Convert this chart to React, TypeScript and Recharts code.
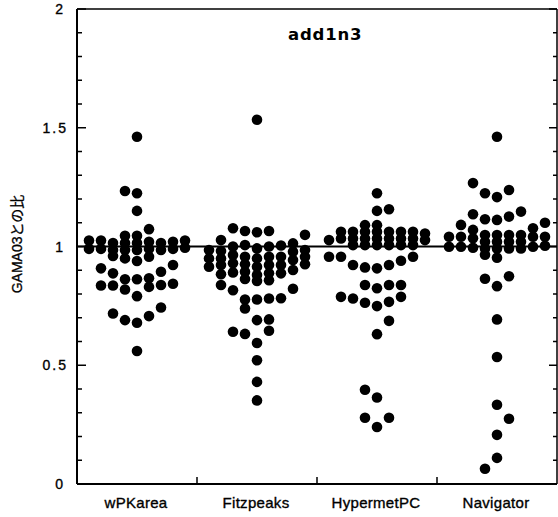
import React from 'react';
import { ScatterChart, Scatter, XAxis, YAxis, ReferenceLine } from 'recharts';

const categories = ['wPKarea', 'Fitzpeaks', 'HypermetPC', 'Navigator'];

// Ratio values, grouped by swarm column (columns -4 .. +4 around each category centre)
const wPKarea = [
  [1.025, 0.99],
  [1.025, 0.99, 0.908, 0.836],
  [1.015, 0.985, 0.96, 0.887, 0.836, 0.718],
  [1.234, 1.045, 1.015, 0.985, 0.95, 0.862, 0.819, 0.69],
  [1.462, 1.224, 1.15, 1.045, 1.015, 0.985, 0.939, 0.862, 0.791, 0.679, 0.56],
  [1.073, 1.02, 0.99, 0.957, 0.866, 0.83, 0.707],
  [1.015, 0.985, 0.894, 0.838, 0.743],
  [1.02, 0.99, 0.922, 0.843],
  [1.025, 0.995],
];

const fitzpeaks = [
  [0.985, 0.95, 0.915],
  [1.027, 0.981, 0.95, 0.922, 0.883, 0.838],
  [1.077, 1.0, 0.964, 0.929, 0.891, 0.816, 0.641],
  [1.065, 1.006, 0.957, 0.925, 0.894, 0.863, 0.777, 0.739, 0.632],
  [1.534, 1.06, 0.992, 0.95, 0.915, 0.88, 0.855, 0.777, 0.69, 0.594, 0.521, 0.43, 0.352],
  [1.065, 1.0, 0.957, 0.922, 0.887, 0.858, 0.781, 0.693, 0.645],
  [1.004, 0.957, 0.922, 0.887, 0.782],
  [1.013, 0.978, 0.943, 0.901, 0.822],
  [1.049, 0.985, 0.957, 0.925],
];

const hypermetPC = [
  [1.027, 0.957],
  [1.062, 1.034, 0.957, 0.788],
  [1.062, 1.034, 1.006, 0.922, 0.781],
  [1.09, 1.062, 1.034, 1.006, 0.912, 0.838, 0.763, 0.397, 0.279],
  [1.224, 1.15, 1.09, 1.062, 1.034, 1.006, 0.908, 0.824, 0.749, 0.631, 0.364, 0.24],
  [1.157, 1.062, 1.034, 1.006, 0.922, 0.838, 0.767, 0.687, 0.279],
  [1.062, 1.034, 1.006, 0.94, 0.838, 0.788],
  [1.062, 1.034, 1.006, 0.957],
  [1.055, 1.027],
];

const navigator = [
  [1.041, 0.999],
  [1.091, 1.041, 0.999],
  [1.267, 1.136, 1.07, 1.035, 0.995],
  [1.224, 1.115, 1.048, 1.02, 0.992, 0.965, 0.864, 0.064],
  [1.462, 1.208, 1.112, 1.048, 1.02, 0.992, 0.953, 0.833, 0.693, 0.535, 0.334, 0.207, 0.11],
  [1.238, 1.126, 1.048, 1.02, 0.992, 0.875, 0.275],
  [1.147, 1.048, 1.02, 0.992],
  [1.077, 1.041, 0.999],
  [1.1, 1.041, 1.003],
];

const seriesByCategory = [wPKarea, fitzpeaks, hypermetPC, navigator];
const columnOffsets = [-4, -3, -2, -1, 0, 1, 2, 3, 4];
const columnStep = 0.1;

const yTicks = [0, 0.1, 0.2, 0.3, 0.4, 0.5, 0.6, 0.7, 0.8, 0.9, 1, 1.1, 1.2, 1.3, 1.4, 1.5, 1.6, 1.7, 1.8, 1.9, 2];
const yMajorLabels = ['0', '0.5', '1', '1.5', '2'];
const xBoundaryTicks = [1, 2, 3];

const points = seriesByCategory.flatMap((cols, ci) =>
  cols.flatMap((vals, k) =>
    vals.map((v) => ({ x: ci + 0.5 + columnOffsets[k] * columnStep, y: v }))
  )
);

const isMajor = (v: number) => Math.abs(v * 2 - Math.round(v * 2)) < 1e-6;

const LeftTick = (props: any) => {
  const { x, y, payload } = props;
  const v = payload.value as number;
  const major = isMajor(v);
  const label = yMajorLabels.find((l) => Math.abs(parseFloat(l) - v) < 1e-6);
  const intLabel = Number.isInteger(Math.round(v * 1000) / 1000);
  return (
    <g>
      <line x1={x} x2={x + (major ? 9 : 5)} y1={y} y2={y} stroke="#000" strokeWidth={1.5} />
      {major && label !== undefined && (
        <text
          x={intLabel ? x - 14 : x - 9}
          y={y}
          dy="0.36em"
          textAnchor="end"
          fontFamily="'Liberation Sans', Arial, sans-serif"
          fontSize={14}
          letterSpacing={intLabel ? 0 : 2}
          fill="#000"
          stroke="#000"
          strokeWidth={0.35}
        >
          {label}
        </text>
      )}
    </g>
  );
};

const RightTick = (props: any) => {
  const { x, y, payload } = props;
  const v = payload.value as number;
  const major = isMajor(v);
  return <line x1={x} x2={x - (major ? 8 : 4)} y1={y} y2={y} stroke="#000" strokeWidth={1.5} />;
};

const BottomTick = (props: any) => {
  const { x, y, payload } = props;
  const v = payload.value as number;
  if (Number.isInteger(v)) {
    return <line x1={x} x2={x} y1={y} y2={y - 7} stroke="#000" strokeWidth={1.5} />;
  }
  const idx = Math.floor(v);
  return (
    <text
      x={x - 1}
      y={y + 24}
      textAnchor="middle"
      fontFamily="'Liberation Sans', Arial, sans-serif"
      fontSize={15}
      letterSpacing={0.3}
      fill="#000"
      stroke="#000"
      strokeWidth={0.35}
    >
      {categories[idx]}
    </text>
  );
};

const TopTick = (props: any) => {
  const { x, y } = props;
  return <line x1={x} x2={x} y1={y} y2={y + 6} stroke="#000" strokeWidth={1.5} />;
};

const Dot = (props: any) => <circle cx={props.cx} cy={props.cy} r={5.3} fill="#000" />;

export default function App() {
  return (
    <div style={{ position: 'absolute', left: 0, top: 0, width: 558, height: 517, background: '#fff' }}>
      <ScatterChart width={558} height={517} margin={{ top: 8, right: 0, bottom: 0, left: 0 }}>
        <XAxis
          xAxisId="b"
          type="number"
          dataKey="x"
          domain={[0, 4]}
          ticks={[0.5, 1, 1.5, 2, 2.5, 3, 3.5]}
          interval={0}
          height={33}
          tickSize={0}
          tickMargin={0}
          tickLine={false}
          tick={<BottomTick />}
          axisLine={{ stroke: '#000', strokeWidth: 2 }}
          allowDataOverflow
        />
        <XAxis
          xAxisId="t"
          orientation="top"
          type="number"
          domain={[0, 4]}
          ticks={xBoundaryTicks}
          interval={0}
          height={1}
          tickSize={0}
          tickMargin={0}
          tickLine={false}
          tick={<TopTick />}
          axisLine={{ stroke: '#000', strokeWidth: 1.5 }}
          allowDataOverflow
        />
        <YAxis
          yAxisId="l"
          type="number"
          dataKey="y"
          domain={[0, 2]}
          ticks={yTicks}
          interval={0}
          width={77}
          tickSize={0}
          tickMargin={0}
          tickLine={false}
          tick={<LeftTick />}
          axisLine={{ stroke: '#000', strokeWidth: 2 }}
          allowDataOverflow
        />
        <YAxis
          yAxisId="r"
          orientation="right"
          type="number"
          domain={[0, 2]}
          ticks={yTicks}
          interval={0}
          width={1}
          tickSize={0}
          tickMargin={0}
          tickLine={false}
          tick={<RightTick />}
          axisLine={{ stroke: '#000', strokeWidth: 1.5 }}
          allowDataOverflow
        />
        <ReferenceLine xAxisId="b" yAxisId="l" y={1} stroke="#000" strokeWidth={2} />
        <Scatter
          xAxisId="b"
          yAxisId="l"
          data={points}
          shape={<Dot />}
          isAnimationActive={false}
        />
        <text
          x={288}
          y={40}
          fontFamily="'DejaVu Sans', sans-serif"
          fontWeight="bold"
          fontSize={16.5}
          letterSpacing={0.8}
          fill="#000"
        >
          add1n3
        </text>
        <text
          x={18}
          y={244}
          transform="rotate(-90 18 244)"
          textAnchor="middle"
          dominantBaseline="middle"
          fontFamily="'Liberation Sans', 'Noto Sans CJK JP', sans-serif"
          fontSize={14}
          fill="#000"
          stroke="#000"
          strokeWidth={0.3}
        >
          GAMA03との比
        </text>
      </ScatterChart>
    </div>
  );
}
